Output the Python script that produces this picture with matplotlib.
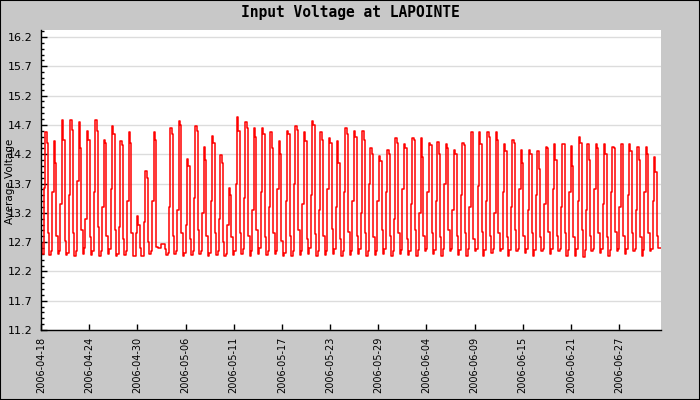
import numpy as np
import matplotlib
matplotlib.use("Agg")
import matplotlib.pyplot as plt
from matplotlib.patches import Rectangle

# 4-hour average voltage, one row per day (first and last day partial)
day_rows = [
    [12.69, 12.50, 13.62, 14.58, 14.40],
    [12.86, 12.48, 12.55, 13.55, 14.42, 14.05],
    [12.80, 12.50, 12.55, 13.35, 14.79, 14.45],
    [12.72, 12.48, 12.52, 13.50, 14.79, 14.62],
    [12.85, 12.46, 12.55, 13.75, 14.75, 14.30],
    [12.90, 12.50, 12.60, 13.10, 14.60, 14.44],
    [12.78, 12.48, 12.55, 13.55, 14.79, 14.60],
    [12.95, 12.47, 12.55, 13.30, 14.45, 14.40],
    [12.80, 12.50, 12.58, 13.60, 14.68, 14.55],
    [12.90, 12.47, 12.50, 12.95, 14.42, 14.35],
    [12.75, 12.48, 12.55, 13.40, 14.58, 14.40],
    [12.85, 12.47, 12.47, 12.85, 13.14, 13.00],
    [12.60, 12.47, 12.47, 13.05, 13.91, 13.80],
    [12.70, 12.50, 12.55, 13.40, 14.58, 14.45],
    [12.62, 12.60, 12.60, 12.66, 12.66, 12.66],
    [12.58, 12.48, 12.52, 13.30, 14.64, 14.55],
    [12.80, 12.50, 12.55, 13.25, 14.77, 14.70],
    [12.85, 12.46, 12.52, 13.00, 14.11, 14.00],
    [12.75, 12.48, 12.55, 13.45, 14.68, 14.60],
    [12.90, 12.50, 12.55, 13.20, 14.33, 14.10],
    [12.80, 12.46, 12.52, 13.40, 14.51, 14.40],
    [12.85, 12.48, 12.55, 13.10, 14.19, 14.05],
    [12.70, 12.46, 12.50, 13.00, 13.62, 13.50],
    [12.78, 12.48, 12.55, 13.70, 14.83, 14.60],
    [12.86, 12.50, 12.58, 13.45, 14.75, 14.65],
    [12.80, 12.47, 12.55, 13.25, 14.64, 14.50],
    [12.90, 12.50, 12.60, 13.55, 14.64, 14.55],
    [12.78, 12.48, 12.55, 13.30, 14.58, 14.30],
    [12.85, 12.50, 12.55, 13.60, 14.43, 14.20],
    [12.72, 12.47, 12.52, 13.40, 14.59, 14.55],
    [12.80, 12.46, 12.55, 13.70, 14.68, 14.62],
    [12.90, 12.48, 12.55, 13.35, 14.58, 14.42],
    [12.76, 12.50, 12.60, 13.50, 14.77, 14.70],
    [12.84, 12.47, 12.55, 13.25, 14.58, 14.45],
    [12.80, 12.48, 12.55, 13.60, 14.48, 14.40],
    [12.92, 12.50, 12.58, 13.30, 14.43, 14.05],
    [12.75, 12.46, 12.55, 13.55, 14.65, 14.55],
    [12.88, 12.48, 12.55, 13.40, 14.59, 14.50],
    [12.80, 12.50, 12.58, 13.20, 14.59, 14.45],
    [12.85, 12.46, 12.55, 13.70, 14.31, 14.20],
    [12.78, 12.48, 12.55, 13.40, 14.17, 14.08],
    [12.90, 12.50, 12.58, 13.55, 14.28, 14.20],
    [12.80, 12.47, 12.55, 13.10, 14.48, 14.40],
    [12.86, 12.50, 12.56, 13.60, 14.38, 14.30],
    [12.75, 12.48, 12.55, 13.35, 14.48, 14.45],
    [12.90, 12.46, 12.57, 13.20, 14.47, 14.15],
    [12.80, 12.55, 12.58, 13.55, 14.40, 14.35],
    [12.85, 12.50, 12.57, 13.40, 14.41, 14.20],
    [12.78, 12.47, 12.58, 13.70, 14.38, 14.30],
    [12.90, 12.55, 12.58, 13.25, 14.28, 14.20],
    [12.80, 12.48, 12.57, 13.50, 14.40, 14.35],
    [12.85, 12.46, 12.58, 13.30, 14.58, 14.58],
    [12.75, 12.55, 12.58, 13.65, 14.58, 14.38],
    [12.88, 12.46, 12.57, 13.40, 14.58, 14.50],
    [12.80, 12.52, 12.58, 13.20, 14.58, 14.45],
    [12.86, 12.55, 12.58, 13.55, 14.38, 14.25],
    [12.78, 12.47, 12.57, 13.30, 14.45, 14.40],
    [12.90, 12.55, 12.58, 13.60, 14.28, 14.05],
    [12.80, 12.52, 12.58, 13.25, 14.28, 14.20],
    [12.85, 12.47, 12.57, 13.50, 14.25, 13.95],
    [12.78, 12.55, 12.58, 13.35, 14.32, 14.30],
    [12.88, 12.50, 12.58, 13.60, 14.38, 14.10],
    [12.80, 12.55, 12.58, 13.30, 14.38, 14.38],
    [12.85, 12.47, 12.57, 13.55, 14.34, 14.00],
    [12.78, 12.46, 12.58, 13.40, 14.50, 14.40],
    [12.90, 12.45, 12.57, 13.25, 14.38, 14.10],
    [12.80, 12.55, 12.58, 13.60, 14.38, 14.30],
    [12.86, 12.52, 12.58, 13.35, 14.38, 14.20],
    [12.78, 12.47, 12.57, 13.55, 14.32, 14.30],
    [12.88, 12.55, 12.58, 13.30, 14.38, 14.38],
    [12.80, 12.50, 12.58, 13.50, 14.38, 14.25],
    [12.85, 12.55, 12.58, 13.25, 14.32, 14.10],
    [12.78, 12.47, 12.57, 13.55, 14.32, 14.20],
    [12.85, 12.55, 12.58, 13.40, 14.16, 13.90],
    [12.80, 12.60, 12.60],
]

tick_labels = ['2006-04-18', '2006-04-24', '2006-04-30', '2006-05-06',
               '2006-05-11', '2006-05-17', '2006-05-23', '2006-05-29',
               '2006-06-04', '2006-06-09', '2006-06-15', '2006-06-21',
               '2006-06-27']
points_per_label = 34.65

volts = np.array([v for row in day_rows for v in row])
n = len(volts)
x = np.arange(n + 1)
y = np.append(volts, volts[-1])

bg = '#c8c8c8'
fig = plt.figure(figsize=(7, 4), dpi=100, facecolor=bg)
ax = fig.add_axes([41 / 700, 70 / 400, 620 / 700, 300 / 400])
ax.set_facecolor('white')

ax.plot(x, y, drawstyle='steps-post', color='red', lw=1.1)

ax.set_xlim(0, n)
ax.set_ylim(11.2, 16.32)

yt = np.arange(11.2, 16.25, 0.5)
ax.set_yticks(yt)
ax.set_yticklabels(['%.1f' % v for v in yt], fontsize=8)
ax.set_yticks(np.arange(11.2, 16.32, 0.1), minor=True)
ax.grid(axis='y', which='major', color='#dcdcdc', lw=1)
ax.set_axisbelow(True)

ax.set_xticks(np.arange(len(tick_labels)) * points_per_label)
ax.set_xticklabels(tick_labels, rotation=90, fontsize=7)

ax.tick_params(axis='y', which='major', direction='in', length=4,
               width=1, color='black', pad=6)
ax.tick_params(axis='x', which='major', direction='in', length=4,
               width=1, color='black', pad=5)
ax.tick_params(axis='y', which='minor', direction='in', length=2.5, width=1)
ax.tick_params(axis='x', which='minor', bottom=False)

for side in ['top', 'right']:
    ax.spines[side].set_visible(False)
for side in ['left', 'bottom']:
    ax.spines[side].set_color('black')
    ax.spines[side].set_linewidth(1)

fig.text(0.5, 1 - 12 / 400, 'Input Voltage at LAPOINTE', ha='center',
         va='center', family='DejaVu Sans Mono', weight='bold', fontsize=10.5)
fig.text(10 / 700, 1 - 181 / 400, 'Average Voltage', rotation=90,
         ha='center', va='center', fontsize=7.5)

# frame round the image
fig.patches.append(Rectangle((0, 0), 1, 1, transform=fig.transFigure,
                             fill=False, edgecolor='black', lw=1.5))

fig.savefig('out.png', dpi=100, facecolor=bg)
